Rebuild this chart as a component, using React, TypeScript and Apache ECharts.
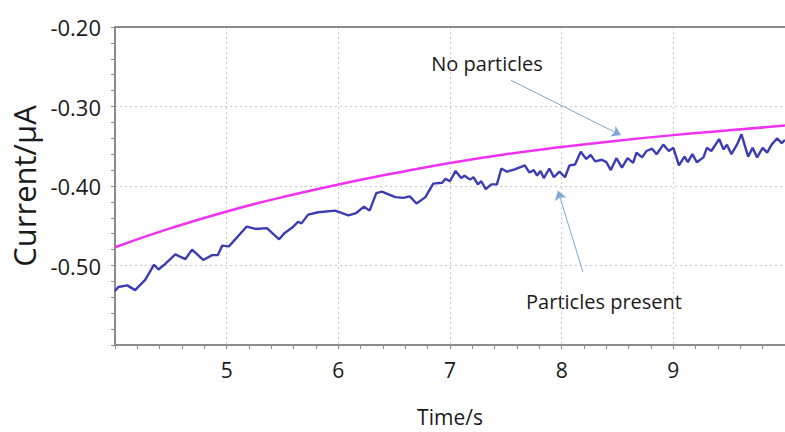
import React, { useEffect, useRef } from "react";
import * as echarts from "echarts";

const magentaTime = [4, 4.5, 5, 5.5, 6, 6.5, 7, 7.5, 8, 8.5, 9, 9.5, 10];
const magentaCurrent = [-0.477, -0.453, -0.432, -0.414, -0.398, -0.384, -0.371, -0.360, -0.351, -0.343, -0.336, -0.330, -0.324];

const blueTime = [
  4.0, 4.03, 4.11, 4.18, 4.27, 4.35, 4.39, 4.45, 4.54, 4.63, 4.69, 4.79, 4.87, 4.92, 4.96, 5.02,
  5.18, 5.26, 5.36, 5.47, 5.52, 5.59, 5.64, 5.67, 5.73, 5.82, 5.97, 6.01, 6.09, 6.16, 6.23, 6.28,
  6.34, 6.39, 6.51, 6.58, 6.64, 6.7, 6.78, 6.85, 6.93, 6.96, 7.0, 7.05, 7.1, 7.13, 7.18, 7.21,
  7.25, 7.28, 7.32, 7.37, 7.42, 7.46, 7.51, 7.58, 7.67, 7.71, 7.75, 7.78, 7.81, 7.84, 7.89, 7.93,
  7.98, 8.03, 8.07, 8.12, 8.17, 8.22, 8.26, 8.3, 8.36, 8.4, 8.44, 8.49, 8.54, 8.59, 8.64, 8.67,
  8.72, 8.76, 8.81, 8.85, 8.91, 8.96, 9.0, 9.05, 9.1, 9.13, 9.17, 9.21, 9.27, 9.3, 9.34, 9.41,
  9.45, 9.48, 9.52, 9.57, 9.61, 9.67, 9.71, 9.75, 9.8, 9.84, 9.88, 9.93, 9.97, 10.0,
];
const blueCurrent = [
  -0.532, -0.527, -0.525, -0.531, -0.518, -0.499, -0.505, -0.498, -0.486, -0.492, -0.48, -0.493, -0.487, -0.487, -0.475, -0.476,
  -0.451, -0.454, -0.453, -0.467, -0.459, -0.452, -0.445, -0.447, -0.436, -0.433, -0.431, -0.433, -0.437, -0.434, -0.426, -0.431,
  -0.409, -0.407, -0.414, -0.415, -0.413, -0.422, -0.414, -0.397, -0.396, -0.391, -0.394, -0.381, -0.39, -0.387, -0.392, -0.389,
  -0.398, -0.394, -0.404, -0.398, -0.398, -0.378, -0.382, -0.379, -0.374, -0.383, -0.38, -0.387, -0.381, -0.39, -0.378, -0.389,
  -0.382, -0.389, -0.374, -0.373, -0.357, -0.366, -0.361, -0.369, -0.367, -0.37, -0.38, -0.365, -0.377, -0.365, -0.371, -0.358,
  -0.364, -0.356, -0.353, -0.36, -0.348, -0.356, -0.352, -0.374, -0.363, -0.37, -0.36, -0.37, -0.364, -0.352, -0.356, -0.341,
  -0.354, -0.348, -0.36, -0.348, -0.335, -0.363, -0.352, -0.364, -0.352, -0.358, -0.348, -0.34, -0.346, -0.342,
];

const xTicks = { min: 4, max: 10, interval: 1 };
const yTicks = { min: -0.6, max: -0.2, interval: 0.1 };

const annotations = [
  { text: "No particles", x: 487, y: 63, from: [7.546, -0.267], to: [8.53, -0.336] },
  { text: "Particles present", x: 604, y: 301, from: [8.19, -0.508], to: [7.967, -0.406] },
];

const FONT = "Open Sans";
const TEXT = "#1a1a1a";

export default function App() {
  const ref = useRef<HTMLDivElement>(null);
  useEffect(() => {
    if (!ref.current) return;
    const chart = echarts.init(ref.current, null, { renderer: "svg" });
    const axisColor = "#8c8c8c";
    chart.setOption({
      animation: false,
      backgroundColor: "#ffffff",
      grid: { left: 115, right: 0, top: 27, bottom: 78 },
      xAxis: [
        {
          type: "value",
          min: xTicks.min,
          max: xTicks.max,
          interval: xTicks.interval,
          name: "Time/s",
          nameLocation: "middle",
          nameGap: 61,
          nameTextStyle: { fontFamily: FONT, fontSize: 21, color: TEXT },
          axisLine: { show: true, onZero: false, lineStyle: { color: axisColor, width: 2 } },
          axisTick: { show: true, inside: false, length: 4, lineStyle: { color: axisColor } },
          minorTick: { show: true, splitNumber: 5, length: 4, lineStyle: { color: axisColor } },
          axisLabel: {
            showMinLabel: false,
            showMaxLabel: false,
            margin: 14,
            fontFamily: FONT,
            fontSize: 21,
            color: TEXT,
          },
          splitLine: { show: true, lineStyle: { color: "#c8c8c8", type: [2, 3], width: 1 } },
        },
        {
          type: "value",
          position: "top",
          min: xTicks.min,
          max: xTicks.max,
          interval: xTicks.interval,
          axisLine: { show: true, onZero: false, lineStyle: { color: axisColor, width: 2 } },
          axisTick: { show: false },
          axisLabel: { show: false },
          splitLine: { show: false },
        },
      ],
      yAxis: {
        type: "value",
        min: yTicks.min,
        max: yTicks.max,
        interval: yTicks.interval,
        name: "Current/μA",
        nameLocation: "middle",
        nameGap: 72,
        nameTextStyle: { fontFamily: FONT, fontSize: 31, color: TEXT },
        axisLine: { show: true, onZero: false, lineStyle: { color: axisColor, width: 2 } },
        axisTick: { show: true, inside: false, length: 4, lineStyle: { color: axisColor } },
        minorTick: { show: true, splitNumber: 5, length: 4, lineStyle: { color: axisColor } },
        axisLabel: {
          showMinLabel: false,
          margin: 14,
          fontFamily: FONT,
          fontSize: 22,
          color: TEXT,
          formatter: (v: number) => v.toFixed(2),
        },
        splitLine: { show: true, lineStyle: { color: "#c8c8c8", type: [2, 3], width: 1 } },
      },
      series: [
        {
          type: "line",
          name: "No particles",
          data: magentaTime.map((t, i) => [t, magentaCurrent[i]]),
          smooth: true,
          showSymbol: false,
          lineStyle: { color: "#f032f0", width: 2.5 },
          z: 3,
        },
        {
          type: "line",
          name: "Particles present",
          data: blueTime.map((t, i) => [t, blueCurrent[i]]),
          showSymbol: false,
          lineStyle: { color: "#3c3cb4", width: 2.4 },
          z: 4,
          markLine: {
            silent: true,
            symbol: ["none", "arrow"],
            symbolSize: 9,
            label: { show: false },
            lineStyle: { color: "#7fa6d8", width: 1, type: "solid" },
            data: annotations.map((a) => [{ coord: a.from }, { coord: a.to }]),
          },
        },
      ],
      graphic: annotations.map((a) => ({
        type: "text",
        x: a.x,
        y: a.y,
        style: {
          text: a.text,
          fontFamily: FONT,
          fontSize: 20,
          fill: TEXT,
          align: "center",
          verticalAlign: "middle",
        },
      })),
    });
    return () => chart.dispose();
  }, []);
  return (
    <div
      ref={ref}
      style={{ position: "fixed", left: 0, top: 0, width: 785, height: 432, background: "#fff" }}
    />
  );
}
